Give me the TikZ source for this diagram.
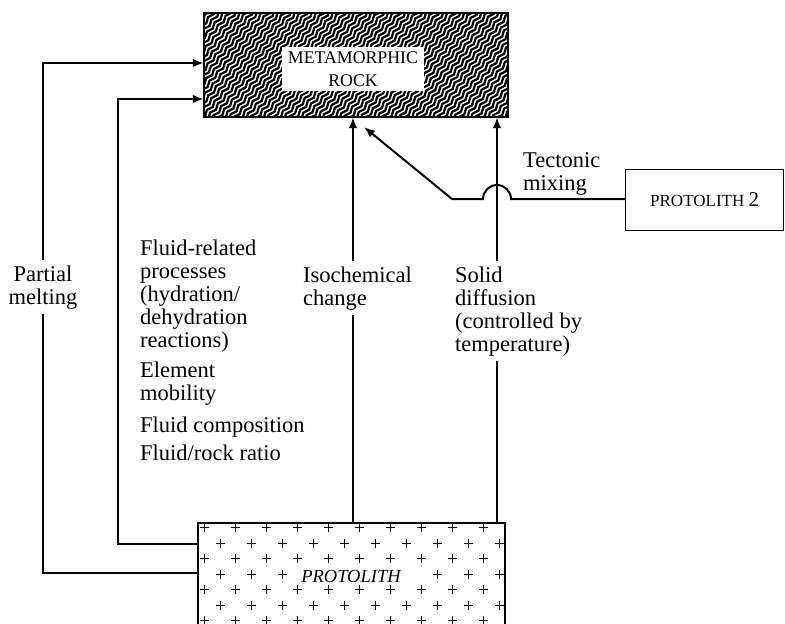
\documentclass[tikz,border=0pt]{standalone}
\usepackage{fontspec}
\setmainfont{Liberation Serif}
\usetikzlibrary{arrows.meta,decorations.pathmorphing}
\begin{document}
\begin{tikzpicture}[x=1pt,y=-1pt,
  conn/.style={line width=2pt,-{Latex[length=11pt,width=8.5pt]}},
  boxframe/.style={draw,line width=2pt,inner sep=0pt},
  lbl/.style={font=\fontsize{22.5}{23}\selectfont,align=left,inner sep=0pt,anchor=base west},
  gaplbl/.style={lbl,fill=white,inner xsep=0pt,inner ysep=5pt},
  wave/.style={line width=2.2pt,decorate,decoration={snake,amplitude=1.3pt,segment length=12pt}},
  crossmark/.style={line width=1.5pt}]
\useasboundingbox (0,0) rectangle (785,624);

% ---------- metamorphic rock box ----------
\node[minimum width=304pt,minimum height=104pt,inner sep=0pt] (meta) at (356,65) {};
\begin{scope}
  \clip (204,13) rectangle (508,117);
  \foreach \k in {-37,...,37} {
    \pgfmathsetmacro{\xa}{356+3.217*\k-109.3}
    \pgfmathsetmacro{\ya}{65+2.7006*\k+130.2}
    \draw[wave] (\xa,\ya) -- ++(218.6,-260.4);
  }
\end{scope}
\fill[white] (282,47) rectangle (424,91);
\node[boxframe,minimum width=304pt,minimum height=104pt] at (356,65) {};
\node[font=\fontsize{17.8}{23}\selectfont,inner sep=0pt,anchor=base] (metatext1) at (353,63) {METAMORPHIC};
\node[font=\fontsize{17.8}{23}\selectfont,inner sep=0pt,anchor=base] (metatext2) at (353,86) {ROCK};

% ---------- protolith box ----------
\node[minimum width=307pt,minimum height=120pt,inner sep=0pt] (proto) at (351.5,583) {};
\foreach \r in {0,...,6} {
  \pgfmathsetmacro{\yy}{round(527+15.5*\r)+0.5}
  \pgfmathsetmacro{\xo}{mod(\r,2)==0 ? 204 : 219.5}
  \foreach \c in {0,...,9} {
    \pgfmathsetmacro{\xx}{round(\xo+31*\c)+0.5}
    \draw[crossmark] (\xx-4.5,\yy) -- (\xx+4.5,\yy) (\xx,\yy-4.5) -- (\xx,\yy+4.5);
  }
}
\node[boxframe,minimum width=307pt,minimum height=120pt] at (351.5,583) {};
\node[fill=white,inner xsep=10pt,inner ysep=2pt,font=\fontsize{18.5}{20}\selectfont\itshape,anchor=base] (prototext) at (351,582) {PROTOLITH};

% ---------- protolith 2 ----------
\node[boxframe,line width=1.4pt,minimum width=158pt,minimum height=61pt,anchor=north west] (proto2) at (625,169) {};
\node[font=\fontsize{17}{20}\selectfont,inner sep=0pt,anchor=base west] (p2text) at (650,206) {PROTOLITH {\fontsize{21}{22}\selectfont 2}};

% ---------- connectors ----------
\coordinate (pmA) at (43,573);
\coordinate (pmB) at (43,63);
\draw[conn] (proto.west |- pmA) -- (pmA) -- (pmB) -- (meta.west |- pmB);
\coordinate (flA) at (118,544);
\coordinate (flB) at (118,99);
\draw[conn] (proto.west |- flA) -- (flA) -- (flB) -- (meta.west |- flB);
\coordinate (isoA) at (353,523);
\draw[conn] (isoA) -- (meta.south -| isoA);
\coordinate (sdA) at (497,523);
\draw[conn] (sdA) -- (meta.south -| sdA);
\coordinate (tmA) at (511,199);
\coordinate (tmB) at (452,199);
\coordinate (tmTip) at (364,127);
\draw[conn] (proto2.west |- tmA) -- (tmA) arc[start angle=0,end angle=180,radius=14pt] -- (tmB) -- (tmTip);

% ---------- labels (base = baseline of last line) ----------
\node[gaplbl,align=center,anchor=base,inner xsep=3pt] (pmlabel) at (43,304) {Partial\\melting};
\node[gaplbl] (isolabel) at (303,305) {Isochemical\\change};
\node[gaplbl] (sdlabel) at (455,351) {Solid\\diffusion\\(controlled by\\temperature)};
\node[lbl] (tmlabel) at (523,190) {Tectonic\\mixing};
\node[lbl] (fl1) at (140,347) {Fluid-related\\processes\\(hydration/\\dehydration\\reactions)};
\node[lbl] (fl2) at (140,400) {Element\\mobility};
\node[lbl] (fl3) at (140,432) {Fluid composition};
\node[lbl] (fl4) at (140,460) {Fluid/rock ratio};
\end{tikzpicture}
\end{document}
